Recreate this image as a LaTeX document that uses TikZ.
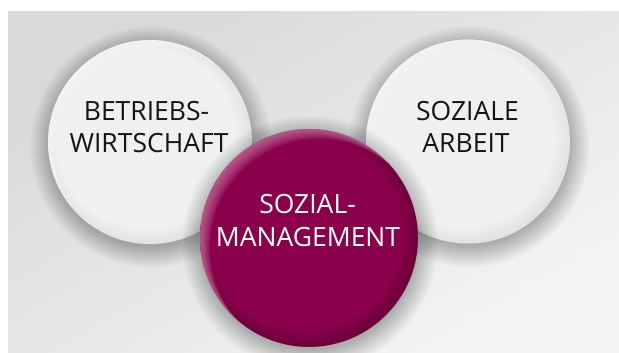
\documentclass[tikz,border=0pt]{standalone}
\usepackage{fontspec}
\setmainfont{Open Sans}
\definecolor{bgA}{HTML}{D8D9D9}
\definecolor{bgB}{HTML}{F3F4F4}
\definecolor{ballW}{HTML}{EFF0F0}
\definecolor{ballWrim}{HTML}{D9DADA}
\definecolor{mag}{HTML}{8A004B}
\definecolor{magRim}{HTML}{5A002F}
\definecolor{magHi}{HTML}{D48CB4}
\definecolor{txtdark}{HTML}{151515}
\pgfdeclareradialshading{wball}{\pgfpoint{-2bp}{2bp}}{color(0bp)=(ballW); color(22bp)=(ballW); color(28bp)=(ballWrim); color(50bp)=(ballWrim)}
\pgfdeclareradialshading{mball}{\pgfpoint{-2bp}{2bp}}{color(0bp)=(mag); color(22bp)=(mag); color(28bp)=(magRim); color(50bp)=(magRim)}
\tikzset{
  lbl/.style={anchor=base, inner sep=0pt, font=\fontsize{26.5}{32}\selectfont},
  dlbl/.style={lbl, text=txtdark},
  wlbl/.style={lbl, text=white},
  softshadow/.style={black, opacity=0.013},
}
\begin{document}
\begin{tikzpicture}[x=1pt,y=1pt]
\useasboundingbox (0,0) rectangle (619,353);
\fill[white] (0,0) rectangle (619,353);
\shade[top color=bgA, bottom color=bgB, shading angle=30] (8,0) rectangle (619,341);
% white balls: shadows
\foreach \k in {1,...,22} {
  \fill[softshadow] (151,206) circle ({102+20-\k});
  \fill[softshadow] (469,206.5) circle ({102+20-\k});
}
\shade[shading=wball] (150,211) circle (102);
\shade[shading=wball] (468,211.5) circle (102);
\begin{scope}
  \clip (150,211) circle (102);
  \foreach \k in {1,...,5} \fill[white, opacity=0.12, even odd rule] (150,211) circle (102) ({150+1.2*\k},{211-1.2*\k}) circle (102);
\end{scope}
\begin{scope}
  \clip (468,211.5) circle (102);
  \foreach \k in {1,...,5} \fill[white, opacity=0.12, even odd rule] (468,211.5) circle (102) ({468+1.2*\k},{211.5-1.2*\k}) circle (102);
\end{scope}
% magenta ball
\foreach \k in {1,...,22} {
  \fill[softshadow] (310,110) circle ({109+20-\k});
}
\shade[shading=mball] (309,115) circle (109);
\begin{scope}
  \clip (309,115) circle (109);
  \foreach \k in {1,...,7} \fill[magHi, opacity=0.13, even odd rule] (309,115) circle (109) ({309+1.4*\k},{115-1.4*\k}) circle (109);
\end{scope}
% labels
\node[dlbl] (bw1) at (146.5,232) {BETRIEBS-};
\node[dlbl] (bw2) at (149,200) {WIRTSCHAFT};
\node[dlbl] (sa1) at (467.5,232) {SOZIALE};
\node[dlbl] (sa2) at (466,200) {ARBEIT};
\node[wlbl] (sm1) at (307.5,139) {SOZIAL-};
\node[wlbl] (sm2) at (308,106) {MANAGEMENT};
\end{tikzpicture}
\end{document}
